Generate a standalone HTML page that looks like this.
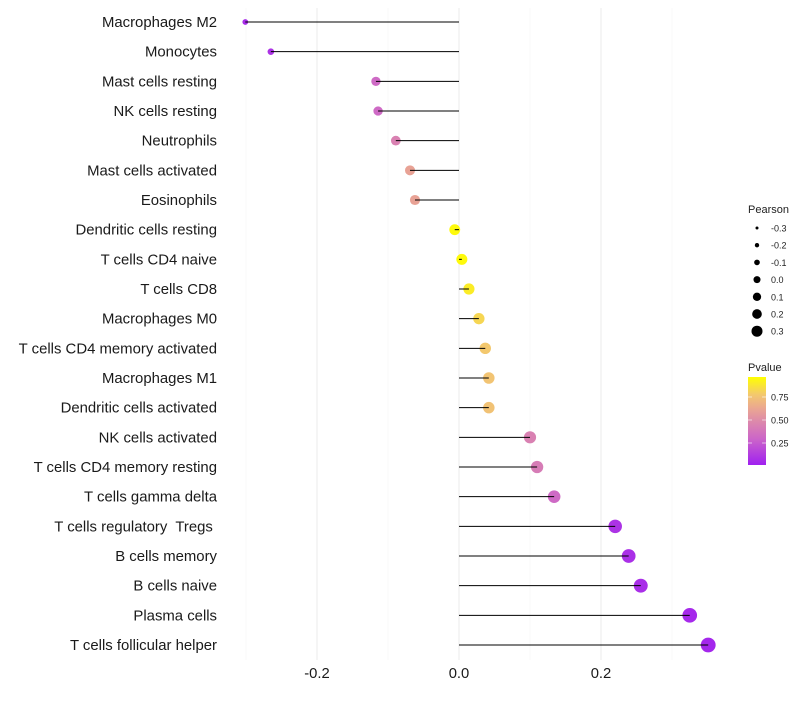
<!DOCTYPE html>
<html><head><meta charset="utf-8"><style>
body{margin:0;background:#fff;font-family:"Liberation Sans",sans-serif}
</style></head><body>
<svg id="chart" width="800" height="700" xmlns="http://www.w3.org/2000/svg" font-family="Liberation Sans, sans-serif"></svg>
<script>
const cells=["Macrophages M2","Monocytes","Mast cells resting","NK cells resting","Neutrophils","Mast cells activated","Eosinophils","Dendritic cells resting","T cells CD4 naive","T cells CD8","Macrophages M0","T cells CD4 memory activated","Macrophages M1","Dendritic cells activated","NK cells activated","T cells CD4 memory resting","T cells gamma delta","T cells regulatory  Tregs ","B cells memory","B cells naive","Plasma cells","T cells follicular helper"];
const pearson=[-0.301,-0.265,-0.117,-0.114,-0.089,-0.069,-0.062,-0.006,0.004,0.014,0.028,0.037,0.042,0.042,0.100,0.110,0.134,0.220,0.239,0.256,0.325,0.351];
const pvalue=[0.05,0.08,0.32,0.32,0.45,0.62,0.62,0.98,0.98,0.93,0.85,0.80,0.78,0.77,0.45,0.42,0.32,0.08,0.07,0.06,0.04,0.03];
const xTicks=[-0.2,0,0.2];
const xTickLabels=["-0.2","0.0","0.2"];
const sizeLegend=[-0.3,-0.2,-0.1,0.0,0.1,0.2,0.3];
const pTicks=[0.25,0.5,0.75];

const svg=document.getElementById('chart');
const NS="http://www.w3.org/2000/svg";
function mk(t,a,p){const e=document.createElementNS(NS,t);for(const k in a)e.setAttribute(k,a[k]);(p||svg).appendChild(e);return e;}
const x=v=>459+v*710;
const y=i=>22+i*(623/21);
const r=v=>Math.sqrt(Math.max(4.5,30+72*v));
const stops=[[0,[160,32,240]],[0.3,[204,102,200]],[0.5,[221,138,170]],[0.65,[235,168,144]],[0.8,[243,200,110]],[1,[255,255,0]]];
function col(p){for(let k=1;k<stops.length;k++){if(p<=stops[k][0]){const [p0,a]=stops[k-1],[p1,b]=stops[k];const t=(p-p0)/(p1-p0);return `rgb(${a.map((c,i)=>Math.round(c+(b[i]-c)*t)).join(',')})`;}}return 'rgb(255,255,0)';}

[-0.3,-0.1,0.1,0.3].forEach(v=>{const g=mk('line',{x1:x(v),x2:x(v),y1:8,y2:660,stroke:'#f3f3f3','stroke-width':0.6});

});
xTicks.forEach((v,i)=>{const g=mk('line',{x1:x(v),x2:x(v),y1:8,y2:660,stroke:'#ebebeb','stroke-width':1});


const t=mk('text',{x:x(v),y:678,'text-anchor':'middle','font-size':14.8,fill:'#1a1a1a'});t.textContent=xTickLabels[i];

});

cells.forEach((c,i)=>{
const t=mk('text',{x:217,y:y(i)+5,'text-anchor':'end','font-size':14.9,fill:'#1a1a1a',style:'white-space:pre'});t.textContent=c;


const d=mk('circle',{cx:x(pearson[i]),cy:y(i),r:r(pearson[i]),fill:col(pvalue[i])});


const l=mk('line',{x1:x(0),x2:x(pearson[i]),y1:y(i),y2:y(i),stroke:'#000','stroke-width':1});


});

const lt=mk('text',{x:748,y:213,'font-size':11,fill:'#222'});lt.textContent='Pearson';


sizeLegend.forEach((v,i)=>{const cy=228+i*17.2;
const c=mk('circle',{cx:757,cy:cy,r:1.5+(v+0.3)/0.6*4,fill:'#000'});


const t=mk('text',{x:771,y:cy+3.5,'font-size':9,fill:'#222'});t.textContent=v.toFixed(1);

});

const pt=mk('text',{x:748,y:371,'font-size':11,fill:'#222'});pt.textContent='Pvalue';


const defs=mk('defs',{});const lg=mk('linearGradient',{id:'pg',x1:0,y1:1,x2:0,y2:0},defs);
stops.forEach(s=>mk('stop',{offset:s[0],'stop-color':col(s[0])},lg));
const bar=mk('rect',{x:748,y:377,width:18,height:88,fill:'url(#pg)'});


pTicks.forEach(p=>{const yy=466-p*92;
mk('line',{x1:748,x2:752,y1:yy,y2:yy,stroke:'#fff','stroke-width':0.6});mk('line',{x1:762,x2:766,y1:yy,y2:yy,stroke:'#fff','stroke-width':0.6});
const t=mk('text',{x:771,y:yy+3.5,'font-size':9,fill:'#222'});t.textContent=p.toFixed(2);

});
</script>
</body></html>
